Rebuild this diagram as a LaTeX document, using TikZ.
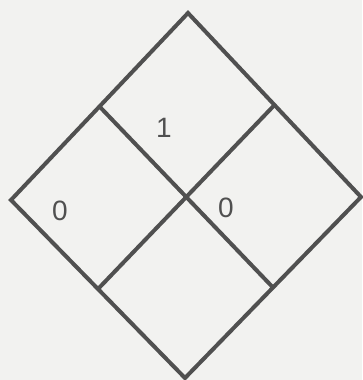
\documentclass[tikz,border=0pt]{standalone}
\usepackage{fontspec}
\setsansfont{Liberation Sans}
\usetikzlibrary{calc}
\definecolor{paper}{RGB}{242,242,240}
\definecolor{ink}{RGB}{80,80,80}
\tikzset{
  hazline/.style={draw=ink, line width=4pt, line join=miter},
  hazdigit/.style={font=\sffamily\fontsize{28}{32}\selectfont, text=ink, inner sep=0pt},
}
\begin{document}
\begin{tikzpicture}[x=1pt, y=-1pt]
  \fill[paper] (0,0) rectangle (362,380);
  \useasboundingbox (0,0) rectangle (362,380);
  % corners of the diamond
  \coordinate (top) at (188,13);
  \coordinate (left) at (11,200);
  \coordinate (right) at (361,197);
  \coordinate (bottom) at (185,378);
  \coordinate (tl) at ($(top)!0.5!(left)$);
  \coordinate (tr) at ($(top)!0.5!(right)$);
  \coordinate (bl) at ($(bottom)!0.5!(left)$);
  \coordinate (br) at ($(bottom)!0.5!(right)$);
  \draw[hazline] (top) -- (right) -- (bottom) -- (left) -- cycle;
  \draw[hazline] (tl) -- (br);
  \draw[hazline] (tr) -- (bl);
  % ratings
  \node[hazdigit] (health) at (60,211) {0};
  \node[hazdigit] (fire) at (164,128) {1};
  \node[hazdigit] (react) at (226,208) {0};
\end{tikzpicture}
\end{document}
